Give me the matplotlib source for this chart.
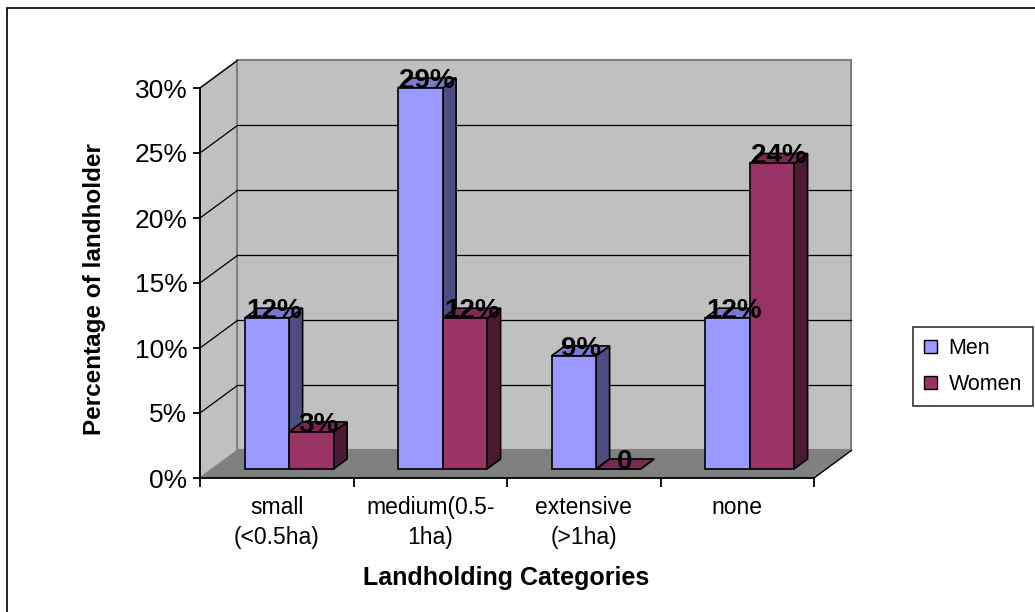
import matplotlib.pyplot as plt
from matplotlib.colors import to_rgb
from matplotlib.patches import Patch, Polygon, Rectangle

categories = ["small\n(<0.5ha)", "medium(0.5-\n1ha)", "extensive\n(>1ha)", "none"]
series = ["Men", "Women"]
men = [11.6, 29.3, 8.7, 11.6]
women = [2.85, 11.6, 0.0, 23.5]
y_ticks = [0, 5, 10, 15, 20, 25, 30]
y_labels = ["0%", "5%", "10%", "15%", "20%", "25%", "30%"]

colors = {"Men": "#9999FF", "Women": "#993366"}

plt.rcParams["font.family"] = ["Liberation Sans", "DejaVu Sans"]


def shade(color, f):
    r, g, b = to_rgb(color)
    return (r * f, g * f, b * f)


def bar_label(v):
    return "0" if v == 0 else f"{v:.0f}%"


W, H = 1035, 612
fig = plt.figure(figsize=(W / 100, H / 100), dpi=100)
ax = fig.add_axes([200 / W, 134 / H, 614 / W, 390 / H])
ax.set_xlim(0, len(categories))
ax.set_ylim(0, 30)
ax.patch.set_visible(False)

# oblique depth of the box, in data units
DX, DY = 0.244, 2.12
# the bars sit in the middle slice of the depth
B0, B1 = 0.33, 0.69
bar_w = 0.29
n = len(categories)

# floor, side wall and back wall
ax.add_patch(Polygon([(0, 0), (n, 0), (n + DX, DY), (DX, DY)], closed=True,
                     facecolor="#808080", edgecolor="none", zorder=1, clip_on=False))
ax.plot([n, n + DX], [0, DY], color="black", lw=1, zorder=1.2, clip_on=False)
ax.add_patch(Polygon([(0, 0), (DX, DY), (DX, 30 + DY), (0, 30)], closed=True,
                     facecolor="#C0C0C0", edgecolor="#808080", lw=1.2, zorder=1, clip_on=False))
ax.add_patch(Polygon([(DX, DY), (n + DX, DY), (n + DX, 30 + DY), (DX, 30 + DY)], closed=True,
                     facecolor="#C0C0C0", edgecolor="#808080", lw=1.5, zorder=1, clip_on=False))

# gridlines on back wall and side wall
for t in y_ticks[1:-1]:
    ax.plot([DX, n + DX], [t + DY, t + DY], color="black", lw=0.9, zorder=1.5, clip_on=False)
for t in y_ticks[1:]:
    ax.plot([0, DX], [t, t + DY], color="black", lw=0.9, zorder=1.5, clip_on=False)

ox, oy = B0 * DX, B0 * DY
ddx, ddy = (B1 - B0) * DX, (B1 - B0) * DY

z = 3
for i in range(n):
    for j, (name, vals) in enumerate(zip(series, [men, women])):
        v = vals[i]
        x0 = i + 0.5 - bar_w + j * bar_w + ox
        x1 = x0 + bar_w
        c = colors[name]
        front = [(x0, oy), (x1, oy), (x1, v + oy), (x0, v + oy)]
        side = [(x1, oy), (x1 + ddx, oy + ddy), (x1 + ddx, v + oy + ddy), (x1, v + oy)]
        top = [(x0, v + oy), (x1, v + oy), (x1 + ddx, v + oy + ddy), (x0 + ddx, v + oy + ddy)]
        for pts, f in [(side, 0.5), (top, 0.8), (front, 1.0)]:
            ax.add_patch(Polygon(pts, closed=True, facecolor=shade(c, f), edgecolor="black",
                                 lw=1.2, joinstyle="miter", zorder=z, clip_on=False))
        z += 0.1

# value labels
for i in range(n):
    for j, vals in enumerate([men, women]):
        v = vals[i]
        xc = i + 0.5 - bar_w / 2 + j * bar_w + ox + ddx / 2
        ax.text(xc, v + oy, bar_label(v), ha="center", va="baseline",
                fontsize=20, fontweight="bold", zorder=10, clip_on=False)

ax.spines[["top", "right"]].set_visible(False)
for s in ["left", "bottom"]:
    ax.spines[s].set_linewidth(1.3)
    ax.spines[s].set_zorder(2)
ax.set_yticks(y_ticks)
ax.set_yticklabels(y_labels)
ax.tick_params(axis="y", direction="out", length=5, width=1.3, pad=4, labelsize=19)
ax.set_xticks(range(n + 1))
ax.set_xticklabels([])
ax.tick_params(axis="x", which="major", direction="out", length=6.5, width=1.3)
ax.set_xticks([i + 0.5 for i in range(n)], minor=True)
ax.set_xticklabels(categories, minor=True, fontsize=16.5, linespacing=1.4)
ax.tick_params(axis="x", which="minor", length=0, pad=13)

fig.text(95 / W, 1 - 289 / H, "Percentage of landholder", rotation=90,
         ha="center", va="center", fontsize=17.5, fontweight="bold")
fig.text(506 / W, 1 - 578 / H, "Landholding Categories",
         ha="center", va="center", fontsize=18, fontweight="bold")

handles = [Patch(facecolor=colors[s], edgecolor="black", lw=1) for s in series]
leg = fig.legend(handles, series, loc="center left", bbox_to_anchor=(913 / W, 1 - 366.5 / H),
                 frameon=True, fancybox=False, edgecolor="black", fontsize=15.5,
                 handlelength=0.6, handleheight=0.6, handletextpad=0.55,
                 borderpad=0.5, labelspacing=0.7, borderaxespad=0)
leg.get_frame().set_linewidth(1.2)

# chart area border
fig.add_artist(Rectangle((7 / W, -0.1), 1.2, 1.1 - 8 / H, transform=fig.transFigure,
                         facecolor="none", edgecolor="black", lw=1.2))

fig.savefig("out.png", dpi=100)
